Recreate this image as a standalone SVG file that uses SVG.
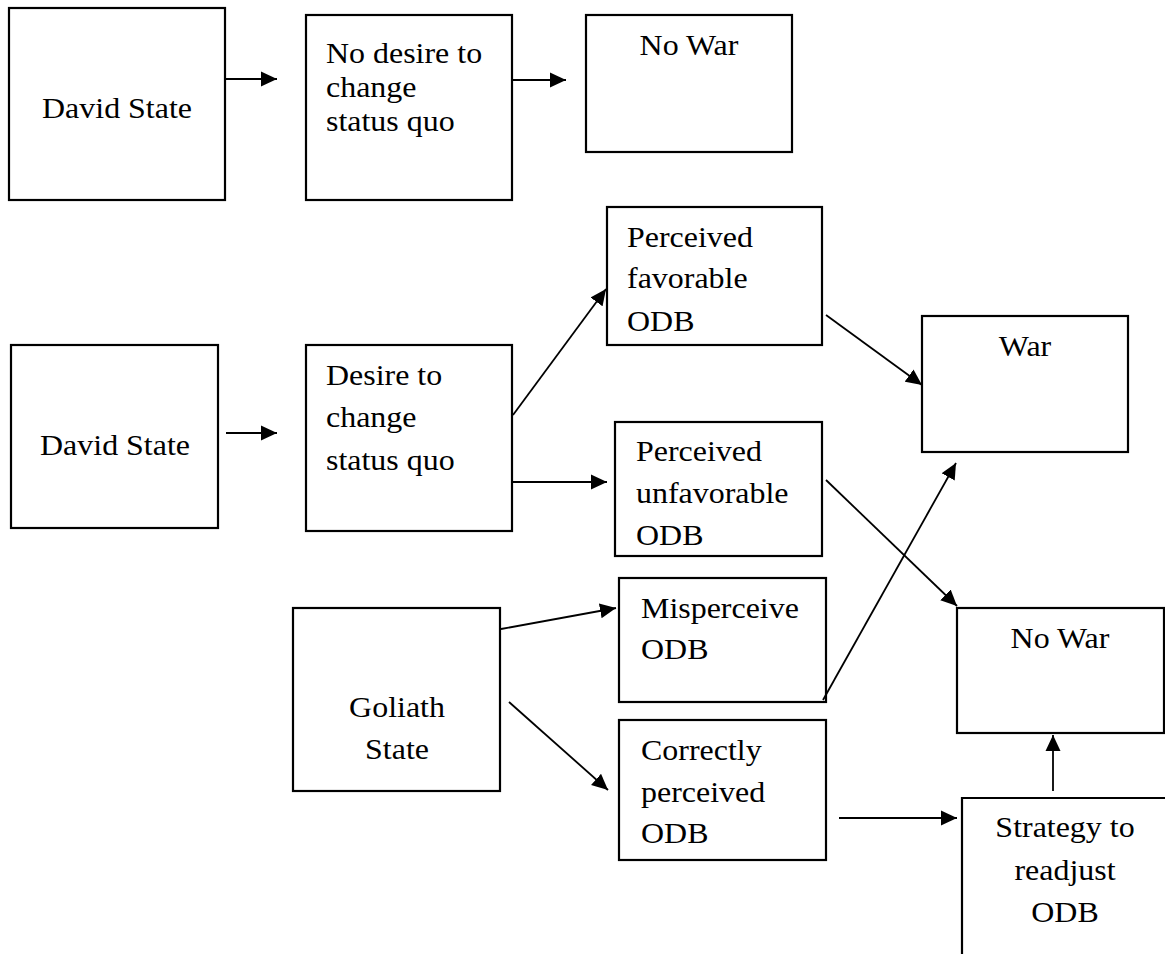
<svg xmlns="http://www.w3.org/2000/svg" width="1165" height="954" viewBox="0 0 1165 954">
<style>
.box{fill:#fff;stroke:#000;stroke-width:2.2}
.t{font-family:"Liberation Serif","Times New Roman",serif;font-size:30px;fill:#000}
.c{text-anchor:middle}
.ln{stroke:#000;stroke-width:1.8;fill:none;marker-end:url(#ah)}
</style>
<defs>
<marker id="ah" markerUnits="userSpaceOnUse" markerWidth="16" markerHeight="16" viewBox="0 0 16 16" refX="16" refY="8" orient="auto">
<path d="M0,0.5 L16,8 L0,15.5 z" fill="#000"/>
</marker>
</defs>
<rect width="1165" height="954" fill="#fff"/>
<g id="david1"><rect class="box" x="9" y="8" width="216" height="192"/><text class="t c" transform="translate(117 118) scale(1.065 1)">David State</text></g>
<g id="nodesire"><rect class="box" x="306" y="15" width="206" height="185"/><text class="t" transform="translate(326 63) scale(1.065 1)">No desire to</text><text class="t" transform="translate(326 97) scale(1.065 1)">change</text><text class="t" transform="translate(326 131) scale(1.065 1)">status quo</text></g>
<g id="nowar1"><rect class="box" x="586" y="15" width="206" height="137"/><text class="t c" transform="translate(689 55) scale(1.065 1)">No War</text></g>
<g id="david2"><rect class="box" x="11" y="345" width="207" height="183"/><text class="t c" transform="translate(115 455) scale(1.065 1)">David State</text></g>
<g id="desire"><rect class="box" x="306" y="345" width="206" height="186"/><text class="t" transform="translate(326 385) scale(1.065 1)">Desire to</text><text class="t" transform="translate(326 427) scale(1.065 1)">change</text><text class="t" transform="translate(326 470) scale(1.065 1)">status quo</text></g>
<g id="favorable"><rect class="box" x="607" y="207" width="215" height="138"/><text class="t" transform="translate(627 247) scale(1.065 1)">Perceived</text><text class="t" transform="translate(627 288) scale(1.065 1)">favorable</text><text class="t" transform="translate(627 331) scale(1.065 1)">ODB</text></g>
<g id="unfavorable"><rect class="box" x="615" y="422" width="207" height="134"/><text class="t" transform="translate(636 461) scale(1.065 1)">Perceived</text><text class="t" transform="translate(636 503) scale(1.065 1)">unfavorable</text><text class="t" transform="translate(636 545) scale(1.065 1)">ODB</text></g>
<g id="war"><rect class="box" x="922" y="316" width="206" height="136"/><text class="t c" transform="translate(1025 356) scale(1.065 1)">War</text></g>
<g id="goliath"><rect class="box" x="293" y="608" width="207" height="183"/><text class="t c" transform="translate(397 717) scale(1.065 1)">Goliath</text><text class="t c" transform="translate(397 759) scale(1.065 1)">State</text></g>
<g id="misperceive"><rect class="box" x="619" y="578" width="207" height="124"/><text class="t" transform="translate(641 618) scale(1.065 1)">Misperceive</text><text class="t" transform="translate(641 659) scale(1.065 1)">ODB</text></g>
<g id="correctly"><rect class="box" x="619" y="720" width="207" height="140"/><text class="t" transform="translate(641 760) scale(1.065 1)">Correctly</text><text class="t" transform="translate(641 802) scale(1.065 1)">perceived</text><text class="t" transform="translate(641 843) scale(1.065 1)">ODB</text></g>
<g id="nowar2"><rect class="box" x="957" y="608" width="207" height="125"/><text class="t c" transform="translate(1060 648) scale(1.065 1)">No War</text></g>
<g id="strategy"><path d="M962,960 L962,798 L1170,798" fill="none" stroke="#000" stroke-width="2.2"/><text class="t c" transform="translate(1065 837) scale(1.065 1)">Strategy to</text><text class="t c" transform="translate(1065 880) scale(1.065 1)">readjust</text><text class="t c" transform="translate(1065 922) scale(1.065 1)">ODB</text></g>
<g id="connectors">
<line class="ln" x1="225" y1="79" x2="277" y2="79"/>
<line class="ln" x1="512" y1="80" x2="566" y2="80"/>
<line class="ln" x1="226" y1="433" x2="277" y2="433"/>
<line class="ln" x1="513" y1="415" x2="606" y2="289"/>
<line class="ln" x1="513" y1="482" x2="607" y2="482"/>
<line class="ln" x1="826" y1="315" x2="922" y2="385"/>
<line class="ln" x1="826" y1="480" x2="957" y2="606"/>
<line class="ln" x1="823" y1="700" x2="956" y2="463"/>
<line class="ln" x1="501" y1="629" x2="616" y2="608"/>
<line class="ln" x1="509" y1="702" x2="608" y2="790"/>
<line class="ln" x1="839" y1="818" x2="957" y2="818"/>
<line class="ln" x1="1053" y1="791" x2="1053" y2="735"/>
</g>
</svg>
